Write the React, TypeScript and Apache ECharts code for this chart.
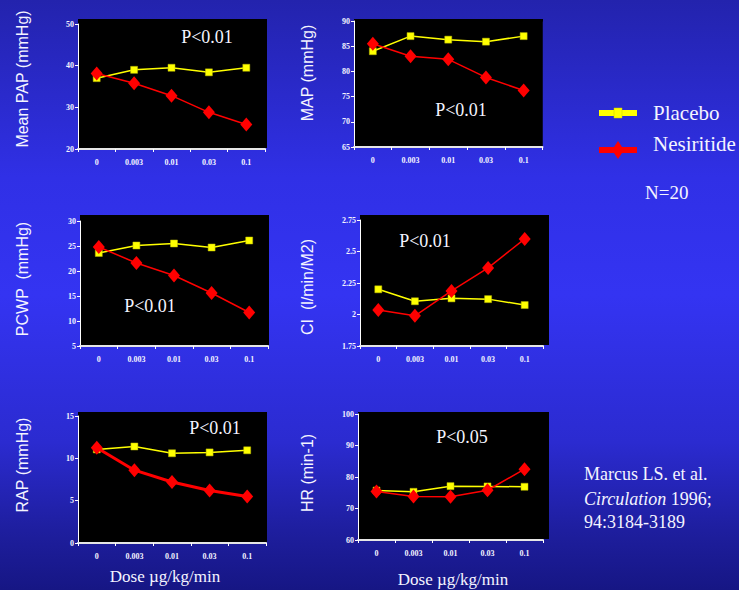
import React, { useEffect, useRef } from "react";
import * as echarts from "echarts";

const doses = ["0", "0.003", "0.01", "0.03", "0.1"];
const papPlacebo = [37.0, 39.0, 39.5, 38.4, 39.5];
const papNesiritide = [38.1, 35.8, 32.8, 28.8, 25.9];
const mapPlacebo = [84.0, 87.0, 86.3, 85.9, 87.0];
const mapNesiritide = [85.5, 83.0, 82.4, 78.8, 76.2];
const pcwpPlacebo = [23.6, 25.1, 25.5, 24.7, 26.1];
const pcwpNesiritide = [24.8, 21.6, 19.1, 15.6, 11.7];
const ciPlacebo = [2.2, 2.105, 2.128, 2.122, 2.075];
const ciNesiritide = [2.035, 1.99, 2.187, 2.37, 2.6];
const rapPlacebo = [11.05, 11.4, 10.6, 10.7, 10.95];
const rapNesiritide = [11.25, 8.6, 7.2, 6.2, 5.5];
const hrPlacebo = [75.7, 75.3, 77.1, 77.0, 76.9];
const hrNesiritide = [75.4, 73.8, 73.7, 75.8, 82.5];

const yTitles = ["Mean PAP (mmHg)", "MAP (mmHg)", "PCWP  (mmHg)", "CI  (l/min/M2)", "RAP (mmHg)", "HR (min-1)"];
const pLabels = ["P<0.01", "P<0.01", "P<0.01", "P<0.01", "P<0.01", "P<0.05"];
const legendNames = ["Placebo", "Nesiritide"];

const panels = [
  { placebo: papPlacebo, nes: papNesiritide, min: 20, max: 50, interval: 10, grid: [78, 24, 187, 125], blackTop: 19, blackRight: 267, titleX: 22, titleY: 79, pX: 207, pY: 37, nesWidth: 1.5 },
  { placebo: mapPlacebo, nes: mapNesiritide, min: 65, max: 90, interval: 5, grid: [354, 21, 188.5, 126], blackTop: 19, blackRight: 543, titleX: 307, titleY: 73, pX: 461, pY: 110, nesWidth: 1.5 },
  { placebo: pcwpPlacebo, nes: pcwpNesiritide, min: 5, max: 30, interval: 5, grid: [80, 221, 188, 125], blackTop: 215, blackRight: 269, titleX: 22, titleY: 279, pX: 150, pY: 306, nesWidth: 1.5 },
  { placebo: ciPlacebo, nes: ciNesiritide, min: 1.75, max: 2.75, interval: 0.25, grid: [360, 220, 183, 126], blackTop: 215, blackRight: 549, titleX: 307, titleY: 287, pX: 425, pY: 241, nesWidth: 1.5 },
  { placebo: rapPlacebo, nes: rapNesiritide, min: 0, max: 15, interval: 5, grid: [78, 416, 188, 127], blackTop: 412, blackRight: 267, titleX: 22, titleY: 465, pX: 215, pY: 428, nesWidth: 3 },
  { placebo: hrPlacebo, nes: hrNesiritide, min: 60, max: 100, interval: 10, grid: [358, 414, 185, 126], blackTop: 412, blackRight: 549, titleX: 307, titleY: 473, pX: 462, pY: 437, nesWidth: 1.5 },
];

const serif = "Liberation Serif";
const sans = "Liberation Sans";
const white = "#f4f4ff";

function txt(x: number, y: number, text: string, size: number, family: string, align: string = "left", extra: any = {}) {
  return {
    type: "text", x, y, z: 10,
    style: { text, fill: white, fontSize: size, fontFamily: family, textAlign: align, textVerticalAlign: "middle", ...extra },
  };
}

export default function App() {
  const ref = useRef<HTMLDivElement>(null);
  useEffect(() => {
    if (!ref.current) return;
    const chart = echarts.init(ref.current, undefined, { renderer: "svg" });
    const grids: any[] = [];
    const xAxes: any[] = [];
    const yAxes: any[] = [];
    const series: any[] = [];
    const graphics: any[] = [];
    panels.forEach((p, i) => {
      const [l, t, w, h] = p.grid;
      grids.push({ left: l, top: t, width: w, height: h, show: true, backgroundColor: "#000", borderWidth: 0, containLabel: false });
      graphics.push({ type: "rect", z: -1, shape: { x: l, y: p.blackTop, width: p.blackRight - l, height: t - p.blackTop + 0.5 }, style: { fill: "#000" } });
      graphics.push({ type: "rect", z: -1, shape: { x: l + w, y: p.blackTop, width: p.blackRight - (l + w), height: t + h - p.blackTop - 1 }, style: { fill: "#000" } });
      xAxes.push({
        type: "category", gridIndex: i, data: doses, boundaryGap: true,
        axisLine: { show: true, lineStyle: { color: "#e6e6e6", width: 2 } },
        axisTick: { show: true, length: 3, lineStyle: { color: "#ffffff", width: 1 } },
        axisLabel: { color: white, fontFamily: serif, fontWeight: "bold", fontSize: 8, margin: 9 },
        splitLine: { show: false },
      });
      yAxes.push({
        type: "value", gridIndex: i, min: p.min, max: p.max, interval: p.interval,
        axisLine: { show: true, lineStyle: { color: "#ffffff", width: 1 } },
        axisTick: { show: true, length: 3, lineStyle: { color: "#ffffff" } },
        axisLabel: { color: white, fontFamily: serif, fontWeight: "bold", fontSize: 8, margin: 4 },
        splitLine: { show: false },
      });
      series.push({
        name: legendNames[0], type: "line", xAxisIndex: i, yAxisIndex: i, data: p.placebo,
        symbol: "rect", symbolSize: 7, z: 3,
        lineStyle: { color: "#ffff00", width: 1.5 },
        itemStyle: { color: "#ffff00", borderColor: "#b8b800", borderWidth: 0.5 },
      });
      series.push({
        name: legendNames[1], type: "line", xAxisIndex: i, yAxisIndex: i, data: p.nes,
        symbol: "diamond", symbolSize: [12, 14], z: 4,
        lineStyle: { color: "#ff0000", width: p.nesWidth },
        itemStyle: { color: "#ff0000" },
      });
      graphics.push({
        type: "text", x: p.titleX, y: p.titleY, rotation: Math.PI / 2,
        style: { text: yTitles[i], fill: white, fontSize: 16, fontFamily: sans, textAlign: "center", textVerticalAlign: "middle" },
      });
      graphics.push(txt(p.pX, p.pY, pLabels[i], 18, serif, "center"));
    });
    graphics.push(txt(165, 576, "Dose µg/kg/min", 17, serif, "center"));
    graphics.push(txt(453, 579, "Dose µg/kg/min", 17, serif, "center"));
    // legend
    graphics.push({ type: "rect", shape: { x: 599, y: 110, width: 38, height: 6 }, style: { fill: "#ffff00" } });
    graphics.push({ type: "rect", shape: { x: 614, y: 108, width: 8, height: 10 }, style: { fill: "#ffff00", stroke: "#c8c800", lineWidth: 0.5 } });
    graphics.push(txt(653, 113, legendNames[0], 21, serif));
    graphics.push({ type: "rect", shape: { x: 599, y: 147, width: 38, height: 6 }, style: { fill: "#ff0000" } });
    graphics.push({ type: "polygon", shape: { points: [[618, 141], [624, 150], [618, 159], [612, 150]] }, style: { fill: "#ff0000" } });
    graphics.push(txt(653, 144, legendNames[1], 21, serif));
    graphics.push(txt(645, 192, "N=20", 19, serif));
    // citation
    graphics.push(txt(584, 474, "Marcus LS. et al.", 18, serif));
    graphics.push(txt(584, 499, "{i|Circulation} 1996;", 18, serif, "left", {
      rich: { i: { fontStyle: "italic", fontFamily: serif, fontSize: 18, fill: white } },
    }));
    graphics.push(txt(584, 522, "94:3184-3189", 18, serif));

    chart.setOption({
      animation: false,
      backgroundColor: new echarts.graphic.LinearGradient(0, 0, 0, 1, [
        { offset: 0, color: "#2323ad" },
        { offset: 0.3, color: "#3030e6" },
        { offset: 0.5, color: "#3434f2" },
        { offset: 0.75, color: "#2b2bd0" },
        { offset: 0.9, color: "#1e1e9e" },
        { offset: 1, color: "#161684" },
      ]),
      grid: grids,
      xAxis: xAxes,
      yAxis: yAxes,
      series,
      graphic: { elements: graphics },
    });
    return () => chart.dispose();
  }, []);
  return <div ref={ref} style={{ position: "fixed", left: 0, top: 0, width: 739, height: 590 }} />;
}
